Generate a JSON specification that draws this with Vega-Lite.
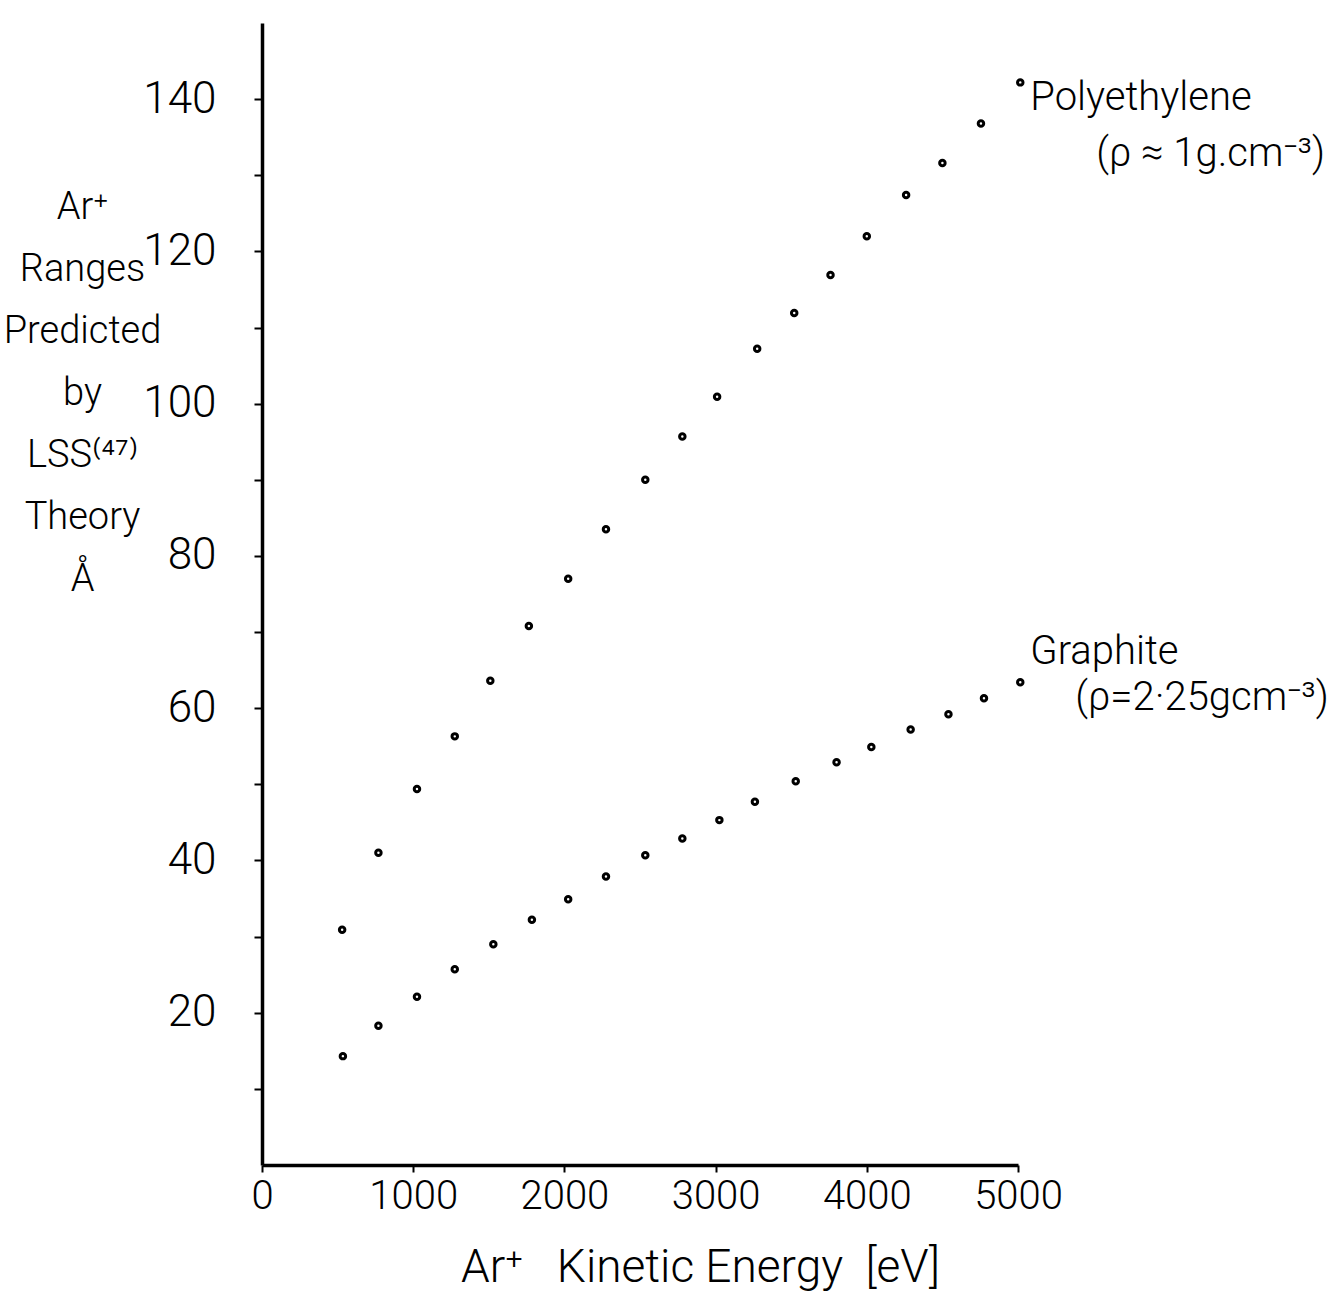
{
  "$schema": "https://vega.github.io/schema/vega-lite/v6.json",
  "autosize": "none",
  "padding": {"left": 262, "top": 23, "right": 316, "bottom": 134},
  "width": 756,
  "height": 1142,
  "background": "white",
  "config": {
    "view": {"stroke": null},
    "font": "Roboto",
    "axis": {
      "domainColor": "black",
      "domainWidth": 3.5,
      "tickColor": "black",
      "tickWidth": 2,
      "labelColor": "black",
      "titleColor": "black",
      "grid": false,
      "labelFont": "Roboto",
      "titleFont": "Roboto",
      "labelFontWeight": 300,
      "titleFontWeight": 300,
      "labelOverlap": false
    }
  },
  "datasets": {
    "points": [
      {"series": "Polyethylene", "energy": 530, "range": 30.9},
      {"series": "Polyethylene", "energy": 770, "range": 41.0},
      {"series": "Polyethylene", "energy": 1025, "range": 49.4},
      {"series": "Polyethylene", "energy": 1275, "range": 56.3},
      {"series": "Polyethylene", "energy": 1510, "range": 63.6},
      {"series": "Polyethylene", "energy": 1765, "range": 70.8},
      {"series": "Polyethylene", "energy": 2025, "range": 77.0},
      {"series": "Polyethylene", "energy": 2275, "range": 83.5},
      {"series": "Polyethylene", "energy": 2535, "range": 90.0},
      {"series": "Polyethylene", "energy": 2780, "range": 95.7},
      {"series": "Polyethylene", "energy": 3010, "range": 100.9},
      {"series": "Polyethylene", "energy": 3275, "range": 107.2},
      {"series": "Polyethylene", "energy": 3520, "range": 111.9},
      {"series": "Polyethylene", "energy": 3760, "range": 116.9},
      {"series": "Polyethylene", "energy": 4000, "range": 122.0},
      {"series": "Polyethylene", "energy": 4260, "range": 127.4},
      {"series": "Polyethylene", "energy": 4500, "range": 131.6},
      {"series": "Polyethylene", "energy": 4755, "range": 136.8},
      {"series": "Polyethylene", "energy": 5015, "range": 142.2},
      {"series": "Graphite", "energy": 535, "range": 14.3},
      {"series": "Graphite", "energy": 770, "range": 18.3},
      {"series": "Graphite", "energy": 1025, "range": 22.1},
      {"series": "Graphite", "energy": 1275, "range": 25.7},
      {"series": "Graphite", "energy": 1530, "range": 29.0},
      {"series": "Graphite", "energy": 1785, "range": 32.2},
      {"series": "Graphite", "energy": 2025, "range": 34.9},
      {"series": "Graphite", "energy": 2275, "range": 37.9},
      {"series": "Graphite", "energy": 2535, "range": 40.7},
      {"series": "Graphite", "energy": 2780, "range": 42.9},
      {"series": "Graphite", "energy": 3025, "range": 45.3},
      {"series": "Graphite", "energy": 3260, "range": 47.7},
      {"series": "Graphite", "energy": 3530, "range": 50.4},
      {"series": "Graphite", "energy": 3800, "range": 52.9},
      {"series": "Graphite", "energy": 4030, "range": 54.9},
      {"series": "Graphite", "energy": 4290, "range": 57.2},
      {"series": "Graphite", "energy": 4540, "range": 59.2},
      {"series": "Graphite", "energy": 4775, "range": 61.3},
      {"series": "Graphite", "energy": 5015, "range": 63.4}
    ],
    "labels": [
      {"series": "Polyethylene", "energy": 5015, "range": 142.2, "line1": "Polyethylene", "line2": "(ρ ≈ 1g.cm⁻³)"},
      {"series": "Graphite", "energy": 5015, "range": 63.4, "line1": "Graphite", "line2": "(ρ=2·25gcm⁻³)"}
    ]
  },
  "layer": [
    {
      "data": {"name": "points"},
      "mark": {"type": "point", "shape": "circle", "filled": false, "size": 30, "strokeWidth": 3, "color": "black", "opacity": 1, "clip": false},
      "encoding": {
        "x": {
          "field": "energy", "type": "quantitative",
          "scale": {"domain": [0, 5000], "nice": false, "zero": true},
          "axis": {
            "values": [0, 1000, 2000, 3000, 4000, 5000],
            "format": "d",
            "labelFontSize": 40,
            "labelPadding": 4,
            "tickSize": 7,
            "labelBaseline": "top",
            "labelFlush": false,
            "title": "Ar⁺\u00a0\u00a0\u00a0Kinetic\u00a0Energy\u00a0\u00a0[eV]",
            "titleFontSize": 46,
            "titleX": 438,
            "titleY": 126,
            "titleBaseline": "bottom",
            "titleAlign": "center"
          }
        },
        "y": {
          "field": "range", "type": "quantitative",
          "scale": {"domain": [0, 150], "nice": false},
          "axis": {
            "values": [10, 20, 30, 40, 50, 60, 70, 80, 90, 100, 110, 120, 130, 140],
            "labelExpr": "datum.value % 20 == 0 ? datum.label : ''",
            "labelFontSize": 44,
            "labelPadding": 38,
            "tickSize": 8,
            "title": ["Ar⁺", "Ranges", "Predicted", "by", "LSS⁽⁴⁷⁾", "Theory", "Å"],
            "titleAngle": 0,
            "titleFontSize": 38,
            "titleLineHeight": 62,
            "titleAlign": "center",
            "titleBaseline": "top",
            "titleX": -180,
            "titleY": 165
          }
        }
      }
    },
    {
      "data": {"name": "labels"},
      "transform": [{"filter": "datum.series == 'Polyethylene'"}],
      "mark": {"type": "text", "align": "left", "baseline": "middle", "fontSize": 40, "fontWeight": 300, "dx": 10, "dy": 16, "color": "black"},
      "encoding": {
        "x": {"field": "energy", "type": "quantitative"},
        "y": {"field": "range", "type": "quantitative"},
        "text": {"field": "line1"}
      }
    },
    {
      "data": {"name": "labels"},
      "transform": [{"filter": "datum.series == 'Polyethylene'"}],
      "mark": {"type": "text", "align": "left", "baseline": "middle", "fontSize": 40, "fontWeight": 300, "dx": 76, "dy": 72, "color": "black"},
      "encoding": {
        "x": {"field": "energy", "type": "quantitative"},
        "y": {"field": "range", "type": "quantitative"},
        "text": {"field": "line2"}
      }
    },
    {
      "data": {"name": "labels"},
      "transform": [{"filter": "datum.series == 'Graphite'"}],
      "mark": {"type": "text", "align": "left", "baseline": "middle", "fontSize": 40, "fontWeight": 300, "dx": 10, "dy": -30, "color": "black"},
      "encoding": {
        "x": {"field": "energy", "type": "quantitative"},
        "y": {"field": "range", "type": "quantitative"},
        "text": {"field": "line1"}
      }
    },
    {
      "data": {"name": "labels"},
      "transform": [{"filter": "datum.series == 'Graphite'"}],
      "mark": {"type": "text", "align": "left", "baseline": "middle", "fontSize": 40, "fontWeight": 300, "dx": 55, "dy": 16, "color": "black"},
      "encoding": {
        "x": {"field": "energy", "type": "quantitative"},
        "y": {"field": "range", "type": "quantitative"},
        "text": {"field": "line2"}
      }
    }
  ]
}
